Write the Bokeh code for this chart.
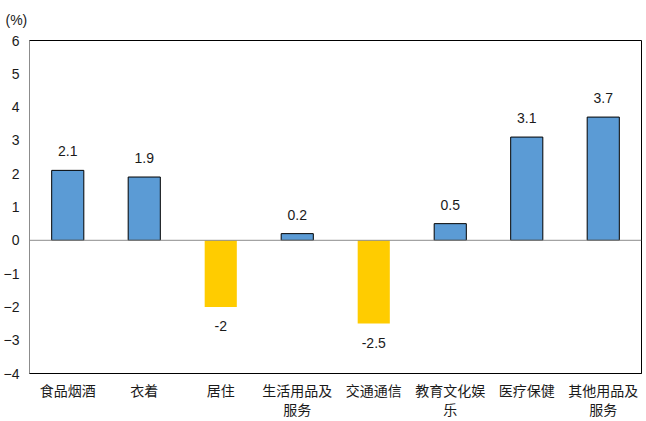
from bokeh.plotting import figure
from bokeh.models import ColumnDataSource, Span, FixedTicker, LinearAxis
from bokeh.core.properties import value
from bokeh.embed import file_html
from bokeh.resources import INLINE

categories = ["食品烟酒", "衣着", "居住", "生活用品及服务", "交通通信", "教育文化娱乐", "医疗保健", "其他用品及服务"]
label_line1 = ["食品烟酒", "衣着", "居住", "生活用品及", "交通通信", "教育文化娱", "医疗保健", "其他用品及"]
label_line2 = ["", "", "", "服务", "", "乐", "", "服务"]
values = [2.1, 1.9, -2, 0.2, -2.5, 0.5, 3.1, 3.7]
value_labels = ["2.1", "1.9", "-2", "0.2", "-2.5", "0.5", "3.1", "3.7"]
y_ticks = [-4, -3, -2, -1, 0, 1, 2, 3, 4, 5, 6]

pos_color = "#5B9BD5"
neg_color = "#FFCC00"
txt_color = "#1a1a1a"

idx = list(range(len(categories)))
colors = [pos_color if v >= 0 else neg_color for v in values]
line_colors = ["black" if v >= 0 else None for v in values]
offsets = [-19 if v >= 0 else 19 for v in values]

src = ColumnDataSource(dict(x=idx, cat=categories, val=values, lab=value_labels,
                            color=colors, lc=line_colors, off=offsets))

p = figure(width=646, height=421, x_range=(-0.5, len(categories) - 0.5), y_range=(-4, 6),
           output_backend="svg", toolbar_location=None,
           min_border_left=26, min_border_right=5, min_border_top=40, min_border_bottom=46)

p.vbar(x="x", top="val", bottom=0, width=0.42, source=src,
       fill_color="color", line_color="lc", line_width=1)

p.text(x="x", y="val", text="lab", y_offset="off", source=src,
       text_align="center", text_baseline="middle",
       text_font=value("Liberation Sans"), text_font_size="14px", text_color=txt_color)

p.add_layout(Span(location=0, dimension="width", line_color="#8c8c8c", line_width=1))

p.xgrid.grid_line_color = None
p.ygrid.grid_line_color = None
p.outline_line_color = "black"
p.outline_line_width = 1

p.yaxis.ticker = FixedTicker(ticks=y_ticks)
p.yaxis.major_tick_line_color = None
p.yaxis.minor_tick_line_color = None
p.yaxis.major_tick_out = 0
p.yaxis.major_tick_in = 0
p.yaxis.axis_line_color = "#8c8c8c"
p.yaxis.major_label_text_font = "Liberation Sans"
p.yaxis.major_label_text_font_size = "14px"
p.yaxis.major_label_text_color = txt_color
p.yaxis.major_label_standoff = 10

xa = p.xaxis[0]
xa.ticker = FixedTicker(ticks=idx, minor_ticks=[])
xa.major_tick_line_color = None
xa.minor_tick_line_color = None
xa.major_tick_out = 0
xa.major_tick_in = 0
xa.axis_line_color = "black"
xa.major_label_overrides = {i: t for i, t in zip(idx, label_line1)}
xa.major_label_text_font = "Noto Sans CJK SC"
xa.major_label_text_font_size = "14px"
xa.major_label_text_color = txt_color
xa.major_label_standoff = 6

xa2 = LinearAxis(ticker=FixedTicker(ticks=idx, minor_ticks=[]),
                 major_label_overrides={i: t for i, t in zip(idx, label_line2)},
                 major_label_text_font="Noto Sans CJK SC", major_label_text_font_size="14px",
                 major_label_text_color=txt_color, major_label_standoff=-4,
                 axis_line_color=None, major_tick_line_color=None, minor_tick_line_color=None,
                 major_tick_out=0, major_tick_in=0)
p.add_layout(xa2, "below")

p.title.text = "(%)"
p.title.align = "left"
p.title.vertical_align = "top"
p.title.offset = -24
p.title.standoff = 22
p.title.text_font = "Liberation Sans"
p.title.text_font_size = "14px"
p.title.text_font_style = "normal"
p.title.text_color = txt_color

open("out.html", "w").write(file_html(p, INLINE))
